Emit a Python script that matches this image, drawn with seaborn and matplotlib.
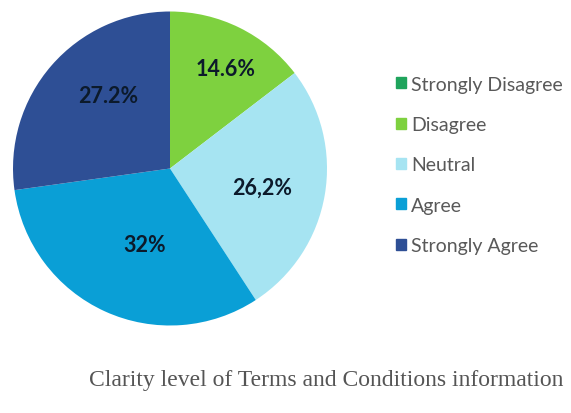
import numpy as np
import seaborn as sns
import matplotlib.pyplot as plt
import matplotlib.patches as mpatches

# === Data ===
categories = ['Strongly Disagree', 'Disagree', 'Neutral', 'Agree', 'Strongly Agree']
shares = [0.0, 14.6, 26.2, 32.0, 27.2]
pct_labels = ['', '14.6%', '26,2%', '32%', '27.2%']
colors = ['#1fa45c', '#7ed13f', '#a6e4f2', '#0a9fd6', '#2e4f95']
title = 'Clarity level of Terms and Conditions information'

sns.set_theme(style='white')
plt.rcParams['font.family'] = ['Lato', 'DejaVu Sans']

fig = plt.figure(figsize=(5.71, 4.14), dpi=100)
ax = fig.add_axes([13 / 571, 87 / 414, 314 / 571, 315 / 414])

wedges, _ = ax.pie(shares, colors=colors, startangle=90, counterclock=False,
                   wedgeprops=dict(linewidth=0))
ax.set_xlim(-1, 1)
ax.set_ylim(-1, 1)
ax.set_aspect('equal')

# label placement per wedge: radius fraction and small angle nudge (deg)
label_r = [0.6, 0.73, 0.6, 0.51, 0.61]
label_nudge = [0, -3, -2, 6, -9]
for w, lab, r, d in zip(wedges, pct_labels, label_r, label_nudge):
    if not lab:
        continue
    ang = np.deg2rad((w.theta1 + w.theta2) / 2 + d)
    ax.text(r * np.cos(ang), r * np.sin(ang), lab, ha='center', va='center',
            fontsize=15.5, fontweight='bold', color='#0c1a2b')

# === Legend ===
handles = [mpatches.Patch(color=c, label=n) for c, n in zip(colors, categories)]
fig.legend(handles=handles, loc='upper left', bbox_to_anchor=(388 / 571, 1 - 69 / 414),
           frameon=False, fontsize=14, labelcolor='#595959', handlelength=0.5,
           handleheight=0.5, handletextpad=0.3, labelspacing=1.2, borderaxespad=0)

# === Caption ===
fig.text(326 / 571, 1 - 381 / 414, title, ha='center', va='center', fontsize=17,
         family=['Liberation Serif'], color='#555555')

plt.savefig('out.png', dpi=100)
plt.close()
